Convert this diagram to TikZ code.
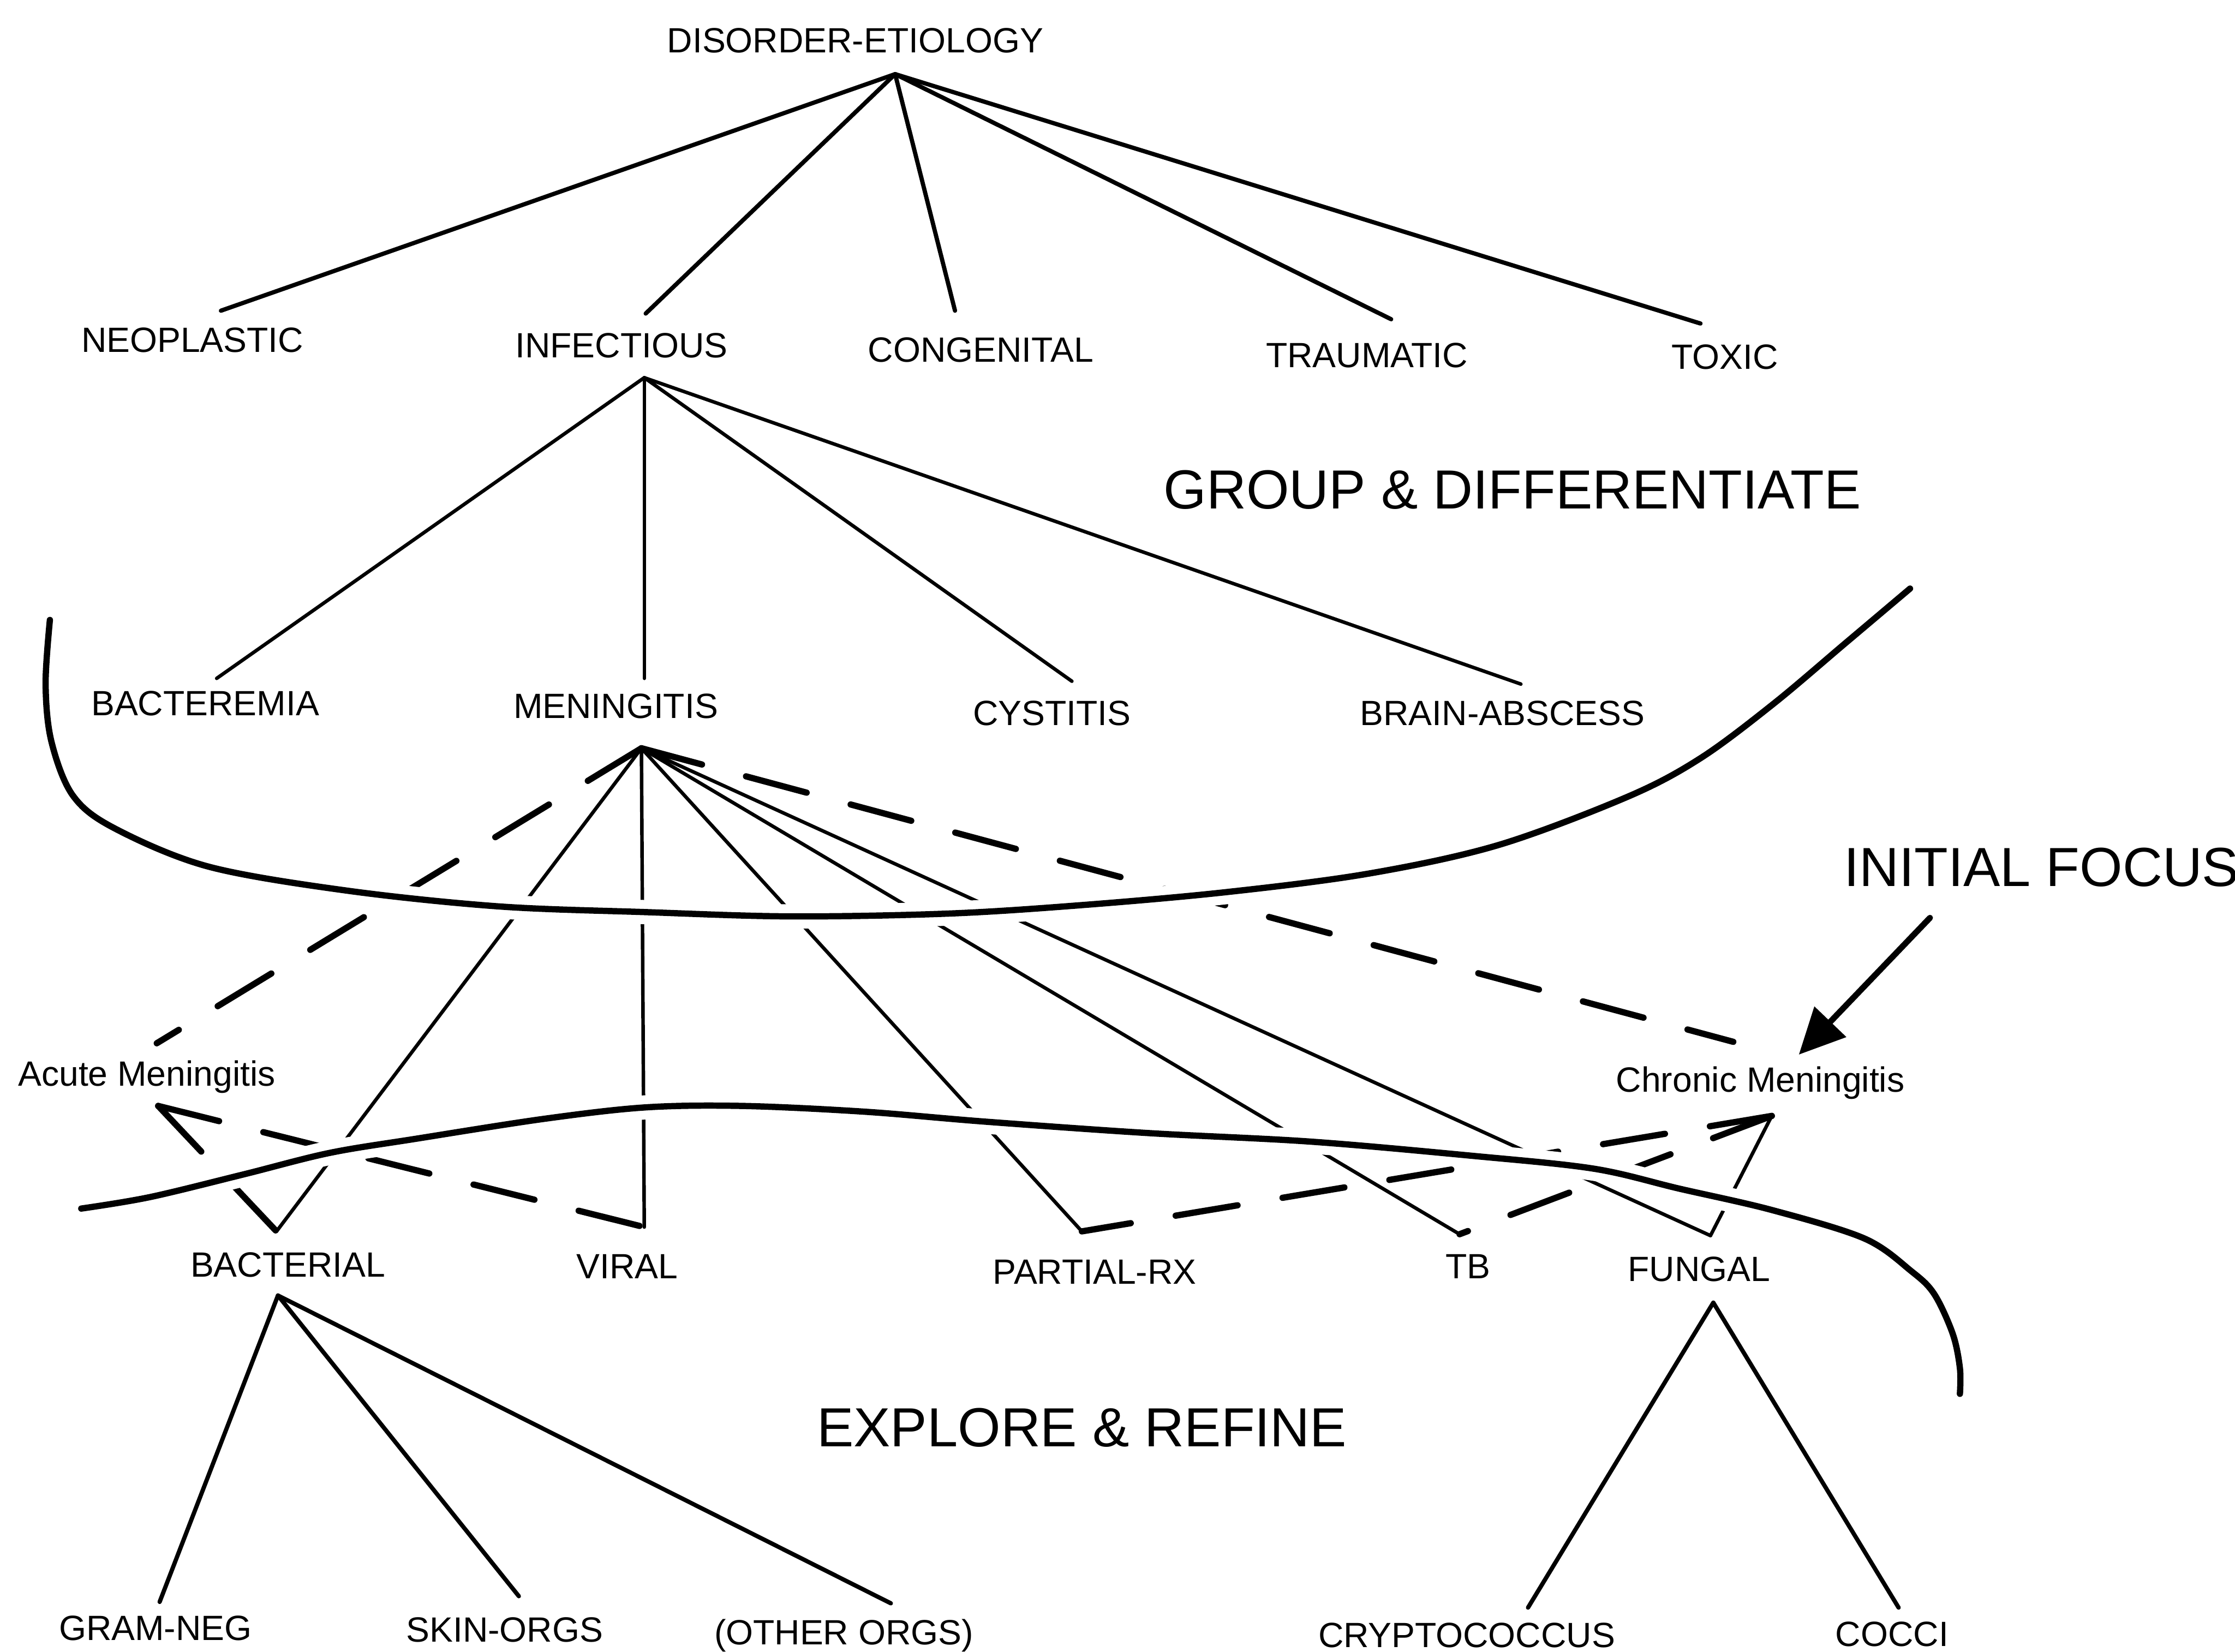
\documentclass[tikz,border=0pt]{standalone}
\usepackage{fontspec}
\setmainfont{Liberation Sans}
\usetikzlibrary{arrows.meta}
\begin{document}
\begin{tikzpicture}[x=0.1mm,y=-0.1mm,
  lbl/.style={font=\fontsize{7}{8}\selectfont, inner sep=0pt, anchor=base},
  big/.style={font=\fontsize{11}{13}\selectfont, inner sep=0pt, anchor=base},
  link/.style={line width=0.7pt, line cap=round},
  dlink/.style={line width=1.25pt, dash pattern=on 4.4mm off 3.2mm, line cap=round},
  zone/.style={line width=1.25pt, line cap=round,
    preaction={draw=white, line width=1.7mm}},
]
\useasboundingbox (0,0) rectangle (1568,1159);

% attachment points above and below the labels
\coordinate (de-b)   at (628,52);
\coordinate (neo-t)  at (155,218);
\coordinate (inf-t)  at (453,220);
\coordinate (con-t)  at (670,218);
\coordinate (tra-t)  at (976,224);
\coordinate (tox-t)  at (1193,227);
\coordinate (inf-b)  at (452,265);
\coordinate (bcm-t)  at (152,476);
\coordinate (men-t)  at (452,476);
\coordinate (cys-t)  at (752,478);
\coordinate (bra-t)  at (1067,480);
\coordinate (men-b)  at (450,525);
\coordinate (acu-t)  at (110,732);
\coordinate (chr-t)  at (1216,731);
\coordinate (acu-b)  at (111,776);
\coordinate (chr-b)  at (1243,783);
\coordinate (bct-t)  at (194,864);
\coordinate (vir-t)  at (452,861);
\coordinate (prx-t)  at (759,864);
\coordinate (tb-t)   at (1024,866);
\coordinate (fun-t)  at (1200,867);
\coordinate (bct-b)  at (195,909);
\coordinate (fun-b)  at (1202,914);
\coordinate (gram-t) at (112,1124);
\coordinate (skin-t) at (364,1120);
\coordinate (oth-t)  at (625,1125);
\coordinate (cry-t)  at (1072,1128);
\coordinate (coc-t)  at (1332,1128);
\coordinate (foc-s)  at (1354,644);
\coordinate (foc-e)  at (1262,740);

% etiology level
\foreach \c in {neo-t,inf-t,con-t,tra-t,tox-t} \draw[link, line width=0.85pt] (de-b) -- (\c);
% infectious level
\foreach \c in {bcm-t,men-t,cys-t,bra-t} \draw[link] (inf-b) -- (\c);
% meningitis level
\foreach \c in {bct-t,vir-t,prx-t,tb-t,fun-t} \draw[link] (men-b) -- (\c);
\draw[dlink] (men-b) -- (acu-t);
\draw[dlink] (men-b) -- (chr-t);
% acute / chronic regrouping
\draw[dlink] (acu-b) -- (bct-t);
\draw[dlink] (acu-b) -- (vir-t);
\draw[dlink] (chr-b) -- (prx-t);
\draw[dlink] (chr-b) -- (tb-t);
\draw[link] (chr-b) -- (fun-t);
% refinement level
\foreach \c in {gram-t,skin-t,oth-t} \draw[link, line width=0.85pt] (bct-b) -- (\c);
\foreach \c in {cry-t,coc-t} \draw[link, line width=0.85pt] (fun-b) -- (\c);

% focus arrow
\draw[line width=1.2pt, line cap=round, -{Triangle[length=3.2mm,width=3mm]}] (foc-s) -- (foc-e);

% boundary curves
\draw[zone] plot[smooth, tension=0.55] coordinates {
  (35,435) (32,480) (36,520) (51,558) (80,581) (146,608) (244,625)
  (350,636) (453,640) (555,643) (666,641) (760,635) (860,626)
  (960,613) (1051,593) (1142,559) (1193,532) (1244,494) (1295,451) (1340,413)};
\draw[zone] plot[smooth, tension=0.55] coordinates {
  (57,848) (105,840) (171,824) (231,809) (292,799) (382,785) (453,777)
  (521,776) (606,780) (691,787) (805,795) (919,801) (1033,811)
  (1118,820) (1178,834) (1243,849) (1308,869) (1341,892) (1357,908)
  (1370,936) (1375,960) (1375,978)};

% labels
\node[lbl] (de)   at (600,37)   {DISORDER-ETIOLOGY};
\node[lbl] (neo)  at (135,247)  {NEOPLASTIC};
\node[lbl] (inf)  at (436,251)  {INFECTIOUS};
\node[lbl] (con)  at (688,254)  {CONGENITAL};
\node[lbl] (tra)  at (959,258)  {TRAUMATIC};
\node[lbl] (tox)  at (1210,259) {TOXIC};
\node[big] (grp)  at (1061,357) {GROUP \& DIFFERENTIATE};
\node[lbl] (bcm)  at (144,502)  {BACTEREMIA};
\node[lbl] (men)  at (432,504)  {MENINGITIS};
\node[lbl] (cys)  at (738,509)  {CYSTITIS};
\node[lbl] (bra)  at (1054,509) {BRAIN-ABSCESS};
\node[big, anchor=base west] (foc) at (1293,622) {INITIAL FOCUS};
\node[lbl] (acu)  at (103,762)  {Acute Meningitis};
\node[lbl] (chr)  at (1235,766) {Chronic Meningitis};
\node[lbl] (bct)  at (202,896)  {BACTERIAL};
\node[lbl] (vir)  at (440,897)  {VIRAL};
\node[lbl] (prx)  at (768,901)  {PARTIAL-RX};
\node[lbl] (tb)   at (1030,897) {TB};
\node[lbl] (fun)  at (1192,899) {FUNGAL};
\node[big] (exp)  at (759,1015) {EXPLORE \& REFINE};
\node[lbl] (gram) at (109,1151) {GRAM-NEG};
\node[lbl] (skin) at (354,1152) {SKIN-ORGS};
\node[lbl] (oth)  at (592,1154) {(OTHER ORGS)};
\node[lbl] (cry)  at (1029,1156) {CRYPTOCOCCUS};
\node[lbl, anchor=base west] (coc) at (1287,1155) {COCCI};
\end{tikzpicture}
\end{document}
